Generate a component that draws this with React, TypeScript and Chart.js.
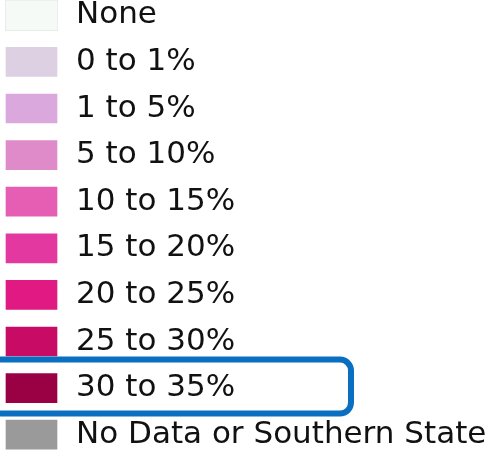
import React, { useEffect, useRef } from "react";
import { Chart, registerables } from "chart.js";

Chart.register(...registerables);

const categories = [
  "None",
  "0 to 1%",
  "1 to 5%",
  "5 to 10%",
  "10 to 15%",
  "15 to 20%",
  "20 to 25%",
  "25 to 30%",
  "30 to 35%",
  "No Data or Southern State",
];
const swatchValues = [1, 1, 1, 1, 1, 1, 1, 1, 1, 1];
const swatchColors = [
  "#f6faf6",
  "#ddd0e3",
  "#daa8dc",
  "#df8bc9",
  "#e65db4",
  "#e3389f",
  "#e01a82",
  "#c80c66",
  "#9a0044",
  "#9a9a9a",
];
const swatchBorders = [
  "#e3e8e3",
  "rgba(0,0,0,0)",
  "rgba(0,0,0,0)",
  "rgba(0,0,0,0)",
  "rgba(0,0,0,0)",
  "rgba(0,0,0,0)",
  "rgba(0,0,0,0)",
  "rgba(0,0,0,0)",
  "rgba(0,0,0,0)",
  "rgba(0,0,0,0)",
];
const highlightedCategory = "30 to 35%";

const highlightPlugin = {
  id: "highlightBox",
  afterDraw(chart: any) {
    const y = chart.scales.y;
    const idx = categories.indexOf(highlightedCategory);
    const c = y.getPixelForValue(idx);
    const ctx = chart.ctx;
    ctx.save();
    ctx.strokeStyle = "#0b6fc1";
    ctx.lineWidth = 6;
    ctx.beginPath();
    ctx.roundRect(-20, c - 28.5, 371, 54, 11);
    ctx.stroke();
    ctx.restore();
  },
};

export default function App() {
  const ref = useRef<HTMLCanvasElement>(null);
  useEffect(() => {
    document.body.style.margin = "0";
    const chart = new Chart(ref.current!, {
      type: "bar",
      data: {
        labels: categories,
        datasets: [
          {
            data: swatchValues,
            backgroundColor: swatchColors,
            borderColor: swatchBorders,
            borderWidth: 1,
            borderSkipped: false,
            barThickness: 31,
          },
        ],
      },
      options: {
        indexAxis: "y",
        responsive: false,
        animation: false,
        events: [],
        layout: { padding: { left: 5, right: 0, top: 0, bottom: 0 } },
        plugins: { legend: { display: false }, tooltip: { enabled: false } },
        scales: {
          x: { display: false, min: 0, max: 1 },
          y: {
            position: "right",
            grid: { display: false, drawTicks: false, tickLength: 0 },
            border: { display: false },
            afterFit: (scale: any) => {
              scale.width = 434;
              scale.paddingTop = 0;
              scale.paddingBottom = 0;
            },
            ticks: {
              padding: 18,
              color: "#111111",
              font: { family: "'DejaVu Sans'", size: 31 },
              autoSkip: false,
            },
          },
        },
      },
      plugins: [highlightPlugin],
    });
    return () => chart.destroy();
  }, []);
  return (
    <div style={{ position: "fixed", left: 0, top: 0, width: 492, height: 454, overflow: "hidden", background: "#fff" }}>
      <canvas ref={ref} width={492} height={466} style={{ position: "absolute", left: 0, top: -8 }} />
    </div>
  );
}
